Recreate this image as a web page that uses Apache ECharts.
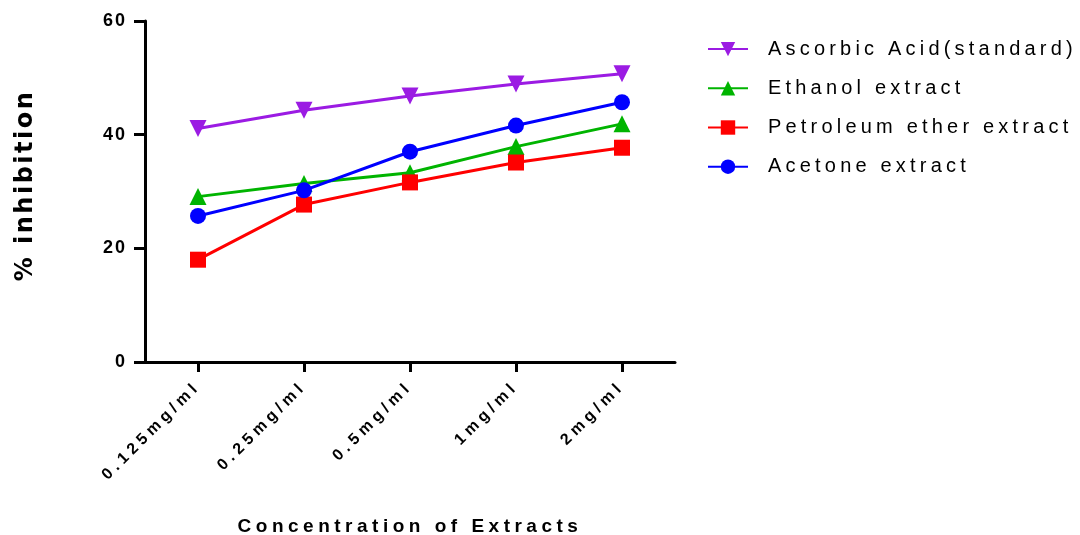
<!DOCTYPE html>
<html><head><meta charset="utf-8">
<script src="https://cdn.jsdelivr.net/npm/echarts@6/dist/echarts.min.js"></script>
<style>html,body{margin:0;padding:0;background:#fff}#c{width:1080px;height:535px}</style>
</head><body><div id="c"></div>
<script>
const categories = ['0.125mg/ml','0.25mg/ml','0.5mg/ml','1mg/ml','2mg/ml'];
const ascorbic = [41.1, 44.3, 46.8, 48.9, 50.7];
const ethanol = [29.1, 31.4, 33.3, 37.9, 41.9];
const petroleum = [18.0, 27.7, 31.6, 35.1, 37.7];
const acetone = [25.7, 30.2, 37.0, 41.6, 45.7];
const yTicks = {min: 0, max: 60, interval: 20};

// wide letter spacing, as in the reference typesetting
(function () {
  const p = CanvasRenderingContext2D.prototype;
  function ls(ctx) {
    const f = String(ctx.font || '');
    if (f.indexOf('DejaVu') >= 0) return '2.5px';
    if (f.indexOf('18px') >= 0) return '2px';
    if (f.indexOf('20px') >= 0) return '4.2px';
    return '4.5px';
  }
  ['fillText', 'strokeText', 'measureText'].forEach(function (k) {
    const fn = p[k];
    p[k] = function () { try { this.letterSpacing = ls(this); } catch (e) {} return fn.apply(this, arguments); };
  });
})();

const chart = echarts.init(document.getElementById('c'), null, {renderer: 'canvas'});
const mk = (name, data, color, symbol, size, rot) => ({
  name, type: 'line', data, symbol, symbolSize: size, symbolRotate: rot || 0,
  lineStyle: {color, width: 3}, itemStyle: {color}, animation: false
});
chart.setOption({
  animation: false,
  grid: {left: 145, right: 405, top: 21, bottom: 173, containLabel: false, outerBoundsMode: 'none'},
  legend: {
    orient: 'vertical', left: 702, top: 32, itemWidth: 40, itemHeight: 18, itemGap: 15,
    textStyle: {fontFamily: 'Liberation Sans', fontSize: 20, color: '#000', padding: [0,0,0,15]},
    data: ['Ascorbic Acid(standard)','Ethanol extract','Petroleum ether extract','Acetone extract']
  },
  xAxis: {
    type: 'category', data: categories, boundaryGap: true,
    axisLine: {lineStyle: {color: '#000', width: 3}},
    axisTick: {show: true, alignWithLabel: true, length: 10, lineStyle: {width: 3, color: '#000'}},
    axisLabel: {rotate: 45, fontFamily: 'Liberation Sans', fontWeight: 'bold', fontSize: 16, color: '#000', margin: 22},
    name: 'Concentration of Extracts', nameLocation: 'middle', nameGap: 153,
    nameTextStyle: {fontFamily: 'Liberation Sans', fontWeight: 'bold', fontSize: 19, color: '#000'}
  },
  yAxis: {
    type: 'value', min: yTicks.min, max: yTicks.max, interval: yTicks.interval,
    splitLine: {show: false},
    axisLine: {show: true, lineStyle: {color: '#000', width: 3}},
    axisTick: {show: true, length: 11, lineStyle: {width: 3, color: '#000'}},
    axisLabel: {fontFamily: 'Liberation Sans', fontWeight: 'bold', fontSize: 18, color: '#000', margin: 18},
    name: '% inhibition', nameLocation: 'middle', nameGap: 106, nameRotate: 90,
    nameTextStyle: {fontFamily: 'DejaVu Sans', fontWeight: 'bold', fontSize: 24, color: '#000', padding: [0,0,0,12]}
  },
  series: [
    mk('Ascorbic Acid(standard)', ascorbic, '#9b1be3', 'triangle', 17, 180),
    mk('Ethanol extract', ethanol, '#00b400', 'triangle', 17),
    mk('Petroleum ether extract', petroleum, '#ff0000', 'rect', 16),
    mk('Acetone extract', acetone, '#0000ff', 'circle', 16)
  ]
});
</script></body></html>
